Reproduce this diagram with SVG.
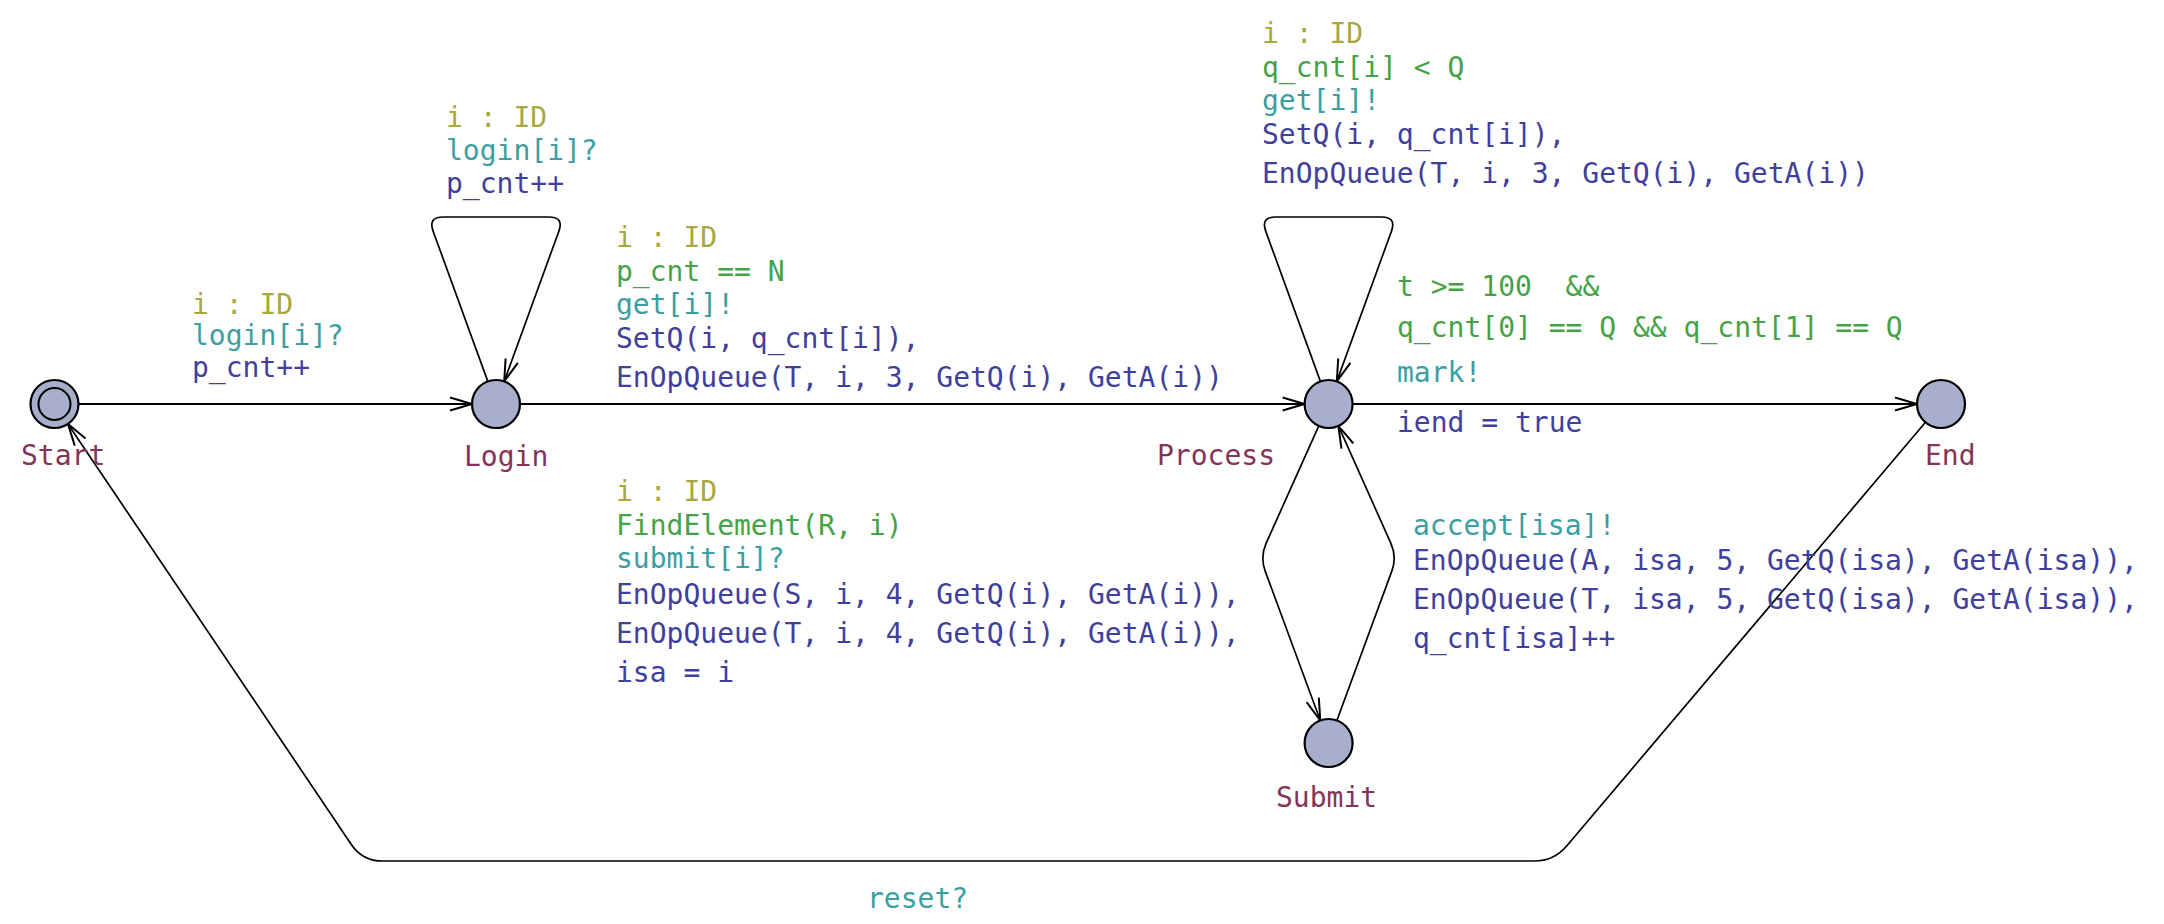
<svg xmlns="http://www.w3.org/2000/svg" width="2164" height="924" viewBox="0 0 2164 924">
<defs>
<marker id="arr" viewBox="-26 -10 28 20" markerWidth="28" markerHeight="20" refX="0" refY="0" markerUnits="userSpaceOnUse" orient="auto" overflow="visible">
<path d="M -22,-6.5 L 0,0 L -22,6.5" fill="none" stroke="#000" stroke-width="2"/>
</marker>
</defs>
<style>
text{font-family:"DejaVu Sans Mono","Liberation Mono",monospace;font-size:28px;white-space:pre}
.sel{fill:#a8a83c}
.grd{fill:#45a245}
.syn{fill:#3c9ea2}
.upd{fill:#40409c}
.nm{fill:#843459}
.loc{fill:#a7afcc;stroke:#000;stroke-width:2.2}
.e{fill:none;stroke:#000;stroke-width:2;marker-end:url(#arr)}
.e2{fill:none;stroke:#000;stroke-width:1.7;marker-end:url(#arr)}
</style>
<rect width="2164" height="924" fill="#fff"/>
<g id="connectors">
<line class="e" x1="78.5" y1="404" x2="472" y2="404"/>
<path class="e2" d="M 487.8,381.4 L 433.1,231.1 Q 428,217 443,217 L 549,217 Q 564,217 558.9,231.1 L 504.2,381.4"/>
<line class="e" x1="520" y1="404" x2="1304.6" y2="404"/>
<path class="e2" d="M 1320.4,381.4 L 1265.7,231.1 Q 1260.6,217 1275.6,217 L 1381.6,217 Q 1396.6,217 1391.5,231.1 L 1336.8,381.4"/>
<line class="e" x1="1352.6" y1="404" x2="1917" y2="404"/>
<path class="e2" d="M 1318.8,425.9 L 1266.1,543.3 Q 1260,557 1265.2,571.1 L 1320.3,720.5"/>
<path class="e2" d="M 1336.9,720.5 L 1391.8,571.1 Q 1397,557 1390.9,543.3 L 1338.4,425.9"/>
<path class="e2" d="M 1925.5,422.3 L 1566.9,845.7 Q 1554,861 1534,861 L 382.5,861 Q 362.5,861 351.3,844.4 L 67.9,423.9"/>
</g>
<g id="label-start-login">
<text class="sel" x="192" y="314">i : ID</text>
<text class="syn" x="192" y="345">login[i]?</text>
<text class="upd" x="192" y="377">p_cnt++</text>
</g>
<g id="label-login-loop">
<text class="sel" x="446" y="127">i : ID</text>
<text class="syn" x="446" y="160">login[i]?</text>
<text class="upd" x="446" y="193">p_cnt++</text>
</g>
<g id="label-login-process">
<text class="sel" x="616" y="247">i : ID</text>
<text class="grd" x="616" y="281">p_cnt == N</text>
<text class="syn" x="616" y="314">get[i]!</text>
<text class="upd" x="616" y="348">SetQ(i, q_cnt[i]),</text>
<text class="upd" x="616" y="387">EnOpQueue(T, i, 3, GetQ(i), GetA(i))</text>
</g>
<g id="label-process-loop">
<text class="sel" x="1262" y="43">i : ID</text>
<text class="grd" x="1262" y="77">q_cnt[i] &lt; Q</text>
<text class="syn" x="1262" y="110">get[i]!</text>
<text class="upd" x="1262" y="144">SetQ(i, q_cnt[i]),</text>
<text class="upd" x="1262" y="183">EnOpQueue(T, i, 3, GetQ(i), GetA(i))</text>
</g>
<g id="label-process-end">
<text class="grd" x="1397" y="296">t &gt;= 100  &amp;&amp;</text>
<text class="grd" x="1397" y="337">q_cnt[0] == Q &amp;&amp; q_cnt[1] == Q</text>
<text class="syn" x="1397" y="382">mark!</text>
<text class="upd" x="1397" y="432">iend = true</text>
</g>
<g id="label-process-submit">
<text class="sel" x="616" y="501">i : ID</text>
<text class="grd" x="616" y="535">FindElement(R, i)</text>
<text class="syn" x="616" y="568">submit[i]?</text>
<text class="upd" x="616" y="604">EnOpQueue(S, i, 4, GetQ(i), GetA(i)),</text>
<text class="upd" x="616" y="643">EnOpQueue(T, i, 4, GetQ(i), GetA(i)),</text>
<text class="upd" x="616" y="682">isa = i</text>
</g>
<g id="label-submit-process">
<text class="syn" x="1413" y="535">accept[isa]!</text>
<text class="upd" x="1413" y="570">EnOpQueue(A, isa, 5, GetQ(isa), GetA(isa)),</text>
<text class="upd" x="1413" y="609">EnOpQueue(T, isa, 5, GetQ(isa), GetA(isa)),</text>
<text class="upd" x="1413" y="648">q_cnt[isa]++</text>
</g>
<g id="label-end-start">
<text class="syn" x="867" y="908">reset?</text>
</g>
<g id="node-start">
<circle class="loc" cx="54.5" cy="404" r="24"/>
<circle cx="54.5" cy="404" r="16" fill="none" stroke="#000" stroke-width="2"/>
<text class="nm" x="21" y="465">Start</text>
</g>
<g id="node-login">
<circle class="loc" cx="496" cy="404" r="24"/>
<text class="nm" x="464" y="466">Login</text>
</g>
<g id="node-process">
<circle class="loc" cx="1328.6" cy="404" r="24"/>
<text class="nm" x="1157" y="465">Process</text>
</g>
<g id="node-end">
<circle class="loc" cx="1941" cy="404" r="24"/>
<text class="nm" x="1925" y="465">End</text>
</g>
<g id="node-submit">
<circle class="loc" cx="1328.6" cy="743" r="24"/>
<text class="nm" x="1276" y="807">Submit</text>
</g>
</svg>
